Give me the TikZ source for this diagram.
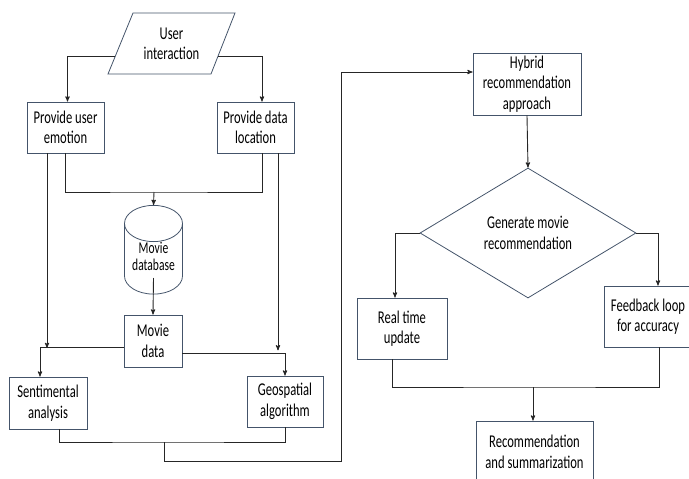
\documentclass[tikz,border=0pt]{standalone}
\usepackage{fontspec}
\setmainfont{Carlito}[FakeStretch=0.7]
\usepackage{tikz}
\usetikzlibrary{arrows}
\usetikzlibrary{shapes.geometric}
\definecolor{boxc}{RGB}{68,84,106}
\tikzset{
    tnode/.style = {align=center, inner sep=0pt, text centered, font=\fontsize{18}{20.5}\selectfont},
    proc/.style = {tnode, rectangle, draw=boxc, line width=0.8pt},
    dbase/.style = {tnode, cylinder, shape border rotate=90, aspect=0.85, draw=boxc, line width=0.8pt, font=\fontsize{16.5}{17}\selectfont},
    decide/.style = {tnode, diamond, draw=boxc, line width=0.8pt},
    conn/.style = {draw=black!85, line width=0.9pt}
}

\begin{document}
\begin{tikzpicture}[x=1pt, y=-1pt, >=stealth']
    \useasboundingbox (0,0) rectangle (689,479);
    % left half
    \node [tnode] (user) at (171.5,44) {User\\interaction};
    \draw [boxc, line width=0.8pt] (133,13) -- (235,13) -- (211,74) -- (108,74) -- cycle;
    \coordinate (ul) at (115,56);
    \coordinate (ur) at (218,56);
    \node [proc, minimum width=77pt, minimum height=51pt] (emo) at (65.5,127.5) {Provide user\\emotion};
    \node [proc, minimum width=77pt, minimum height=51pt] (loc) at (255.5,127.5) {Provide data\\location};
    \node [dbase, minimum width=58pt, minimum height=82pt] (db) at (153.5,259) {\raisebox{-6pt}{\begin{tabular}{@{}c@{}}Movie\\database\end{tabular}}};
    \node [proc, minimum width=58pt, minimum height=52pt] (mdata) at (153,341) {Movie\\data};
    \node [proc, minimum width=78pt, minimum height=52pt] (sent) at (48,403) {Sentimental\\analysis};
    \node [proc, minimum width=76pt, minimum height=51pt] (geo) at (285,401.5) {Geospatial\\algorithm};
    % right half
    \node [proc, minimum width=108pt, minimum height=62pt] (hyb) at (527,84) {Hybrid\\recommendation\\approach};
    \node [decide, minimum width=216pt, minimum height=130pt] (gen) at (528,233) {Generate movie\\recommendation};
    \node [proc, minimum width=90pt, minimum height=61pt] (rt) at (402,328.5) {Real time\\update};
    \node [proc, minimum width=88pt, minimum height=61pt] (fb) at (648,316.5) {Feedback loop\\for accuracy};
    \node [proc, minimum width=117pt, minimum height=62pt] (rec) at (534.5,452) {Recommendation\\and summarization};

    \coordinate (j1) at (154,192);
    \coordinate (j2) at (47,348);
    \coordinate (j3) at (164,442);
    \coordinate (j4) at (341,461);
    \coordinate (j5) at (533,387);

    \draw [conn, ->] (ul) -| ([xshift=2pt]emo.north);
    \draw [conn, ->] (ur) -| ([xshift=6.5pt]loc.north);
    \draw [conn] (emo.south) |- (j1) -| ([xshift=6.5pt]loc.south);
    \draw [conn, ->] (j1) -- (db.north);
    \draw [conn, ->] ([yshift=-19pt]db.center) -- (mdata.north);
    \draw [conn, ->] (emo.south -| j2) -- (j2);
    \draw [conn, ->] ([yshift=-6pt]mdata.west) -| ([xshift=-8pt]sent.north);
    \draw [conn, ->] ([xshift=22.5pt]loc.south) -- ++(0,197);
    \draw [conn, ->] ([yshift=-12pt]mdata.east) -| (geo.north);
    \draw [conn] ([xshift=11pt]sent.south) |- (j3) -| (geo.south);
    \draw [conn, ->] (j3) |- (j4) |- ([yshift=12pt]hyb.west);
    \draw [conn, ->] (hyb.south) -- (gen.north);
    \draw [conn, ->] (gen.west) -| ([xshift=-7pt]rt.north);
    \draw [conn, ->] (gen.east) -| ([xshift=10pt]fb.north);
    \draw [conn] ([xshift=-10pt]rt.south) |- (j5) -| ([xshift=11pt]fb.south);
    \draw [conn, ->] (j5) -- (j5 |- rec.north);
\end{tikzpicture}
\end{document}
